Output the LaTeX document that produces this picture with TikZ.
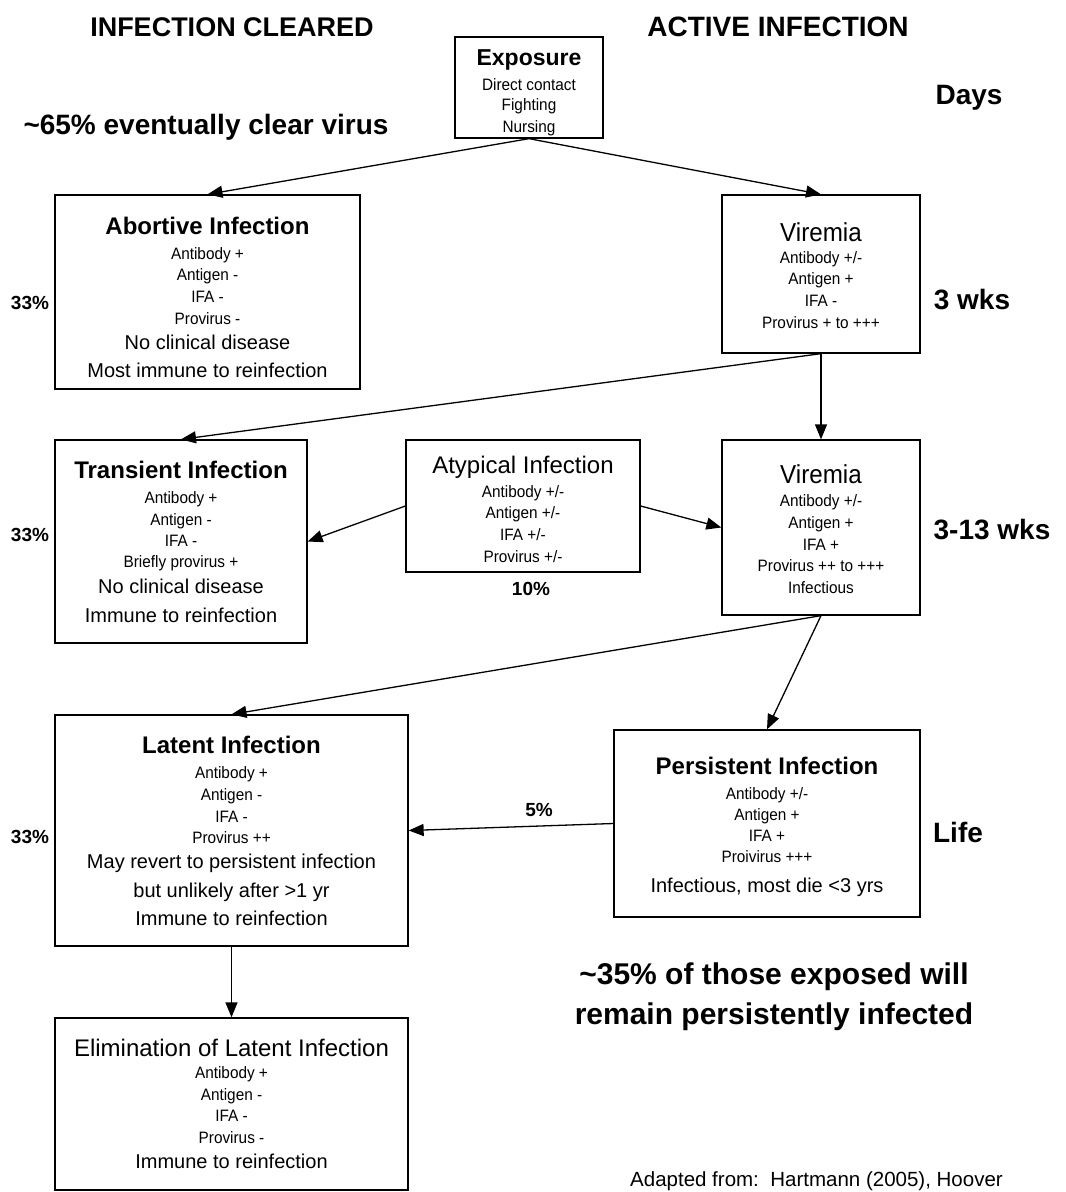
\documentclass[tikz,border=0pt]{standalone}
\usepackage{fontspec}
\setmainfont{Liberation Sans}
\newfontfamily\narrowfont[FakeStretch=0.93]{Liberation Sans}
\usetikzlibrary{arrows.meta}
\newcommand\fsmall{\narrowfont\fontsize{16.5}{21.7}\selectfont}
\newcommand\fmed{\rmfamily\fontsize{20}{28}\selectfont}
\newcommand\fttl{\rmfamily\fontsize{24}{28}\selectfont}
\newcommand\fvir{\narrowfont\fontsize{26}{28}\selectfont}
\newcommand\fbttl{\rmfamily\fontsize{24}{28}\selectfont\bfseries}
\newcommand\fbig{\rmfamily\fontsize{28}{32}\selectfont\bfseries}
\newcommand\fpct{\rmfamily\fontsize{19}{22}\selectfont\bfseries}
\tikzset{
  box/.style={draw=black, line width=1.3pt, fill=white, inner sep=0pt},
  content/.style={inner sep=0pt, align=center, anchor=north, font=\fsmall},
  conn/.style={line width=1.3pt, -{Triangle[length=15pt,width=12pt]}},
  lbl/.style={inner sep=0pt, align=center},
}
\begin{document}
\begin{tikzpicture}[x=1pt,y=-1pt]
\useasboundingbox (0,0) rectangle (1066,1192);
\fill[white] (0,0) rectangle (1066,1192);

% headings
\node[lbl,font=\rmfamily\fontsize{27}{32}\selectfont\bfseries] (hcl) at (232,27) {INFECTION CLEARED};
\node[lbl,font=\fbig] (hai) at (778,27) {ACTIVE INFECTION};
\node[lbl,font=\fbig] (days) at (969,98) {Days};
\node[lbl,font=\fbig] (h65) at (206,127) {\textasciitilde65\% eventually clear virus};

% boxes
\node[box, minimum width=148pt, minimum height=101pt] (expo) at (529,87.5) {};
\node[content, yshift=-13.3pt] (expot) at (expo.north)
  {{\rmfamily\fontsize{23}{28}\selectfont\bfseries Exposure}\\[3.3pt]Direct contact\\[-1.7pt]Fighting\\Nursing};

\node[box, minimum width=305pt, minimum height=194pt] (abort) at (207.5,292) {};
\node[content, yshift=-23pt] (abortt) at (abort.north)
  {{\fbttl Abortive Infection}\\[2.6pt]Antibody +\\Antigen -\\IFA -\\Provirus -\\[3.3pt]
   {\fmed No clinical disease}\\[6.6pt]{\fmed Most immune to reinfection}};

\node[box, minimum width=198pt, minimum height=158pt] (vir1) at (821,274) {};
\node[content, yshift=-28pt] (vir1t) at (vir1.north)
  {{\fvir Viremia}\\Antibody +/-\\Antigen +\\IFA -\\Provirus + to +++};

\node[box, minimum width=252pt, minimum height=203pt] (trans) at (181,541.5) {};
\node[content, yshift=-21.7pt] (transt) at (trans.north)
  {{\fbttl Transient Infection}\\[3.3pt]Antibody +\\Antigen -\\[-0.8pt]IFA -\\[-0.8pt]Briefly provirus +\\[5pt]
   {\fmed No clinical disease}\\[6.6pt]{\fmed Immune to reinfection}};

\node[box, minimum width=234pt, minimum height=132pt] (atyp) at (523,506) {};
\node[content, yshift=-16.7pt] (atypt) at (atyp.north)
  {{\fttl Atypical Infection}\\[1.7pt]Antibody +/-\\Antigen +/-\\IFA +/-\\Provirus +/-};

\node[box, minimum width=198pt, minimum height=175pt] (vir2) at (821,527.5) {};
\node[content, yshift=-25pt] (vir2t) at (vir2.north)
  {{\fvir Viremia}\\[1.6pt]Antibody +/-\\Antigen +\\IFA +\\Provirus ++ to +++\\Infectious};

\node[box, minimum width=353pt, minimum height=231pt] (latent) at (231.5,830.5) {};
\node[content, yshift=-21.7pt] (latentt) at (latent.north)
  {{\fbttl Latent Infection}\\[3.3pt]Antibody +\\Antigen -\\IFA -\\Provirus ++\\[3.3pt]
   {\fmed May revert to persistent infection}\\[6.6pt]{\fmed but unlikely after >1 yr}\\[6.6pt]{\fmed Immune to reinfection}};

\node[box, minimum width=306pt, minimum height=187pt] (persist) at (767,823.5) {};
\node[content, yshift=-28pt] (persistt) at (persist.north)
  {{\fbttl Persistent Infection}\\[3.3pt]Antibody +/-\\[-1pt]Antigen +\\[-1pt]IFA +\\[-1pt]Proivirus +++\\[8.3pt]
   {\fmed Infectious, most die <3 yrs}};

\node[box, minimum width=353pt, minimum height=172pt] (elim) at (231.5,1104) {};
\node[content, yshift=-21.7pt] (elimt) at (elim.north)
  {{\fttl Elimination of Latent Infection}\\Antibody +\\Antigen -\\IFA -\\Provirus -\\[3.3pt]
   {\fmed Immune to reinfection}};

% side labels
\node[lbl,font=\fpct] (p1) at (30,303) {33\%};
\node[lbl,font=\fpct] (p2) at (30,535) {33\%};
\node[lbl,font=\fpct] (p3) at (30,837) {33\%};
\node[lbl,font=\fpct] (p10) at (531,589) {10\%};
\node[lbl,font=\fpct] (p5) at (539,810) {5\%};
\node[lbl,font=\fbig] (w3) at (972,300) {3 wks};
\node[lbl,font=\fbig] (w313) at (992,530) {3-13 wks};
\node[lbl,font=\fbig] (life) at (958,832) {Life};
\node[lbl,font=\rmfamily\fontsize{30}{40}\selectfont\bfseries] (h35) at (774,997) {\textasciitilde35\% of those exposed will\\remain persistently infected};
\node[lbl,font=\rmfamily\fontsize{20.5}{24}\selectfont, anchor=base west] (src) at (630,1186) {Adapted from:\ \ Hartmann (2005), Hoover};

% connectors
\draw[conn] (expo.south) -- (abort.north);
\draw[conn] (expo.south) -- (vir1.north);
\draw[conn] (vir1.south) -- (trans.north);
\draw[conn] (vir1.south) -- (vir2.north);
\draw[conn] (atyp.west) -- (trans.east);
\draw[conn] (atyp.east) -- (vir2.west);
\draw[conn] (vir2.south) -- (latent.north);
\draw[conn] (vir2.south) -- (persist.north);
\draw[conn] (persist.west) -- (latent.east);
\draw[conn] (latent.south) -- (elim.north);
\end{tikzpicture}
\end{document}
